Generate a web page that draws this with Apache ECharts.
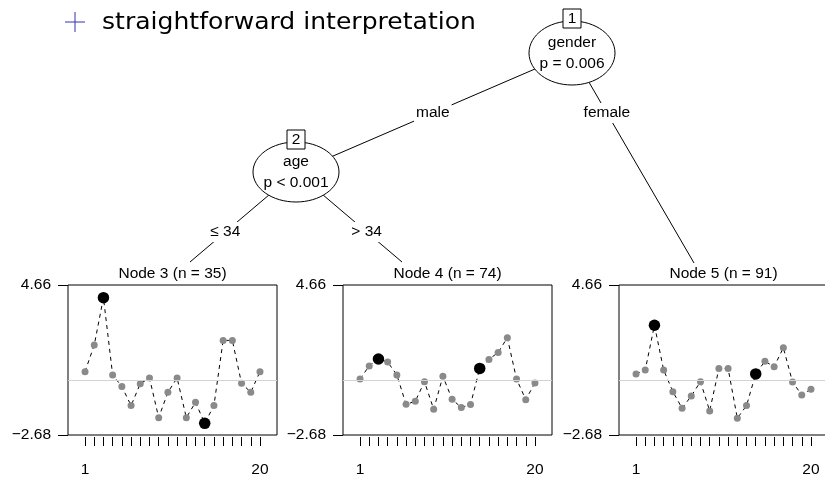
<!DOCTYPE html>
<html>
<head>
<meta charset="utf-8">
<script src="https://cdn.jsdelivr.net/npm/echarts@6/dist/echarts.min.js"></script>
<style>
  html, body { margin: 0; padding: 0; background: #fff; }
  #chart { width: 825px; height: 477px; }
</style>
</head>
<body>
<div id="chart"></div>
<script>
// Time points (x positions) shared by all terminal-node profiles
const timePoints = [1, 2, 3, 4, 5, 6, 7, 8, 9, 10, 11, 12, 13, 14, 15, 16, 17, 18, 19, 20];
const xTickLabels = [1, 20];
const yTickLabels = [-2.68, 4.66];
const referenceLevel = 0;

// Mean profiles for each terminal node
const node3Values = [0.42, 1.72, 4.04, 0.26, -0.31, -1.24, -0.17, 0.11, -1.83, -0.59, 0.11, -1.83, -1.08, -2.11, -1.24, 1.95, 1.95, -0.15, -0.59, 0.42];
const node4Values = [0.06, 0.70, 1.04, 0.89, 0.26, -1.18, -1.03, -0.07, -1.42, 0.19, -0.93, -1.34, -1.19, 0.58, 1.02, 1.36, 2.08, 0.06, -0.95, -0.13];
const node5Values = [0.31, 0.50, 2.69, 0.50, -0.56, -1.37, -0.77, -0.07, -1.50, 0.57, 0.58, -1.86, -1.24, 0.31, 0.93, 0.66, 1.59, -0.09, -0.72, -0.44];
// Time points emphasised with large black dots
const highlightPoints = [3, 14];

const nodeTitles = ['Node 3 (n = 35)', 'Node 4 (n = 74)', 'Node 5 (n = 91)'];

// Inner tree nodes
const innerIds = ['1', '2'];
const splitVars = ['gender', 'age'];
const splitPValues = ['p = 0.006', 'p < 0.001'];
const edgeLabels = ['male', 'female', '\u2264 34', '> 34'];

const heading = 'straightforward interpretation';

// ---- layout ----
const panelLeft = [68, 343, 619];
const panelTop = 285, panelW = 209, panelH = 150;
const innerPos = [[572, 53], [296, 172]];
const innerR = [[43, 32], [43, 30]];
const leafTop = [[190, 262], [402, 262], [694, 263]];

const FONT = '"Liberation Sans", Arial, sans-serif';
const FS = 15.5;
const profiles = [node3Values, node4Values, node5Values];

const chart = echarts.init(document.getElementById('chart'), null, { renderer: 'canvas' });

const grids = [], xAxes = [], yAxes = [], series = [], titles = [];
profiles.forEach((vals, i) => {
  grids.push({
    left: panelLeft[i], top: panelTop, width: panelW, height: panelH,
    outerBoundsMode: 'none', containLabel: false,
    show: true, borderColor: '#000', borderWidth: 1, backgroundColor: 'transparent'
  });
  xAxes.push({
    gridIndex: i, type: 'value', min: -0.85, max: 21.85, position: 'bottom', offset: 2,
    axisLine: { show: false, onZero: false },
    splitLine: { show: false },
    axisTick: { show: true, inside: false, length: 9, customValues: timePoints, lineStyle: { color: '#000', width: 1 } },
    axisLabel: { show: true, customValues: xTickLabels, margin: 25, color: '#000', fontFamily: FONT, fontSize: FS }
  });
  yAxes.push({
    gridIndex: i, type: 'value', min: yTickLabels[0], max: yTickLabels[1], position: 'left',
    axisLine: { show: false, onZero: false },
    splitLine: { show: false },
    axisTick: { show: true, inside: false, length: 10, customValues: yTickLabels, lineStyle: { color: '#000', width: 1 } },
    axisLabel: {
      show: true, customValues: yTickLabels, margin: 17, color: '#000', fontFamily: FONT, fontSize: FS,
      formatter: v => (v < 0 ? '\u2212' + Math.abs(v).toFixed(2) : v.toFixed(2))
    }
  });
  // reference level
  series.push({
    type: 'line', xAxisIndex: i, yAxisIndex: i, data: [], z: 1, silent: true,
    markLine: {
      silent: true, symbol: ['none', 'none'], label: { show: false },
      lineStyle: { color: '#d3d3d3', type: 'solid', width: 1 },
      data: [{ yAxis: referenceLevel }]
    }
  });
  // profile
  series.push({
    type: 'line', xAxisIndex: i, yAxisIndex: i, z: 3,
    data: timePoints.map((t, k) => [t, vals[k]]),
    symbol: 'circle', symbolSize: 7, showSymbol: true,
    itemStyle: { color: '#8a8a8a', borderWidth: 0 },
    lineStyle: { color: '#000', width: 1, type: [4, 4] }
  });
  // emphasised points
  series.push({
    type: 'scatter', xAxisIndex: i, yAxisIndex: i, z: 4,
    data: highlightPoints.map(t => [t, vals[timePoints.indexOf(t)]]),
    symbol: 'circle', symbolSize: 11.5,
    itemStyle: { color: '#000', opacity: 1 }
  });
  titles.push({
    text: nodeTitles[i], left: panelLeft[i] + panelW / 2, top: 266, textAlign: 'center',
    textStyle: { fontFamily: FONT, fontSize: FS, fontWeight: 'normal', color: '#000' },
    padding: 0
  });
});

// ---- tree graphics ----
const graphic = [];
// edges
const edges = [
  [innerPos[0], innerPos[1]],
  [innerPos[0], leafTop[2]],
  [innerPos[1], leafTop[0]],
  [innerPos[1], leafTop[1]]
];
edges.forEach(([a, b]) => {
  graphic.push({
    type: 'line', z: 1,
    shape: { x1: a[0], y1: a[1], x2: b[0], y2: b[1] },
    style: { stroke: '#000', lineWidth: 1 }
  });
});
// edge labels placed on the edges at a fixed height
const labelY = [113, 113, 232, 232];
edges.forEach(([a, b], k) => {
  const y = labelY[k];
  const x = a[0] + (b[0] - a[0]) * (y - a[1]) / (b[1] - a[1]);
  graphic.push({
    type: 'text', z: 2, x: x, y: y,
    style: {
      text: edgeLabels[k], fill: '#000', font: FS + 'px ' + FONT,
      align: 'center', verticalAlign: 'middle',
      backgroundColor: '#fff', padding: [2, 2]
    }
  });
});
// inner nodes
innerPos.forEach((p, k) => {
  graphic.push({
    type: 'ellipse', z: 3,
    shape: { cx: p[0], cy: p[1], rx: innerR[k][0], ry: innerR[k][1] },
    style: { fill: '#fff', stroke: '#000', lineWidth: 1 }
  });
  const top = p[1] - innerR[k][1];
  graphic.push({
    type: 'rect', z: 4,
    shape: { x: p[0] - 9, y: top - 12, width: 18, height: 19 },
    style: { fill: '#fff', stroke: '#000', lineWidth: 1 }
  });
  graphic.push({
    type: 'text', z: 5, x: p[0], y: top - 2.5,
    style: { text: innerIds[k], fill: '#000', font: FS + 'px ' + FONT, align: 'center', verticalAlign: 'middle' }
  });
  graphic.push({
    type: 'text', z: 5, x: p[0], y: p[1] - 10,
    style: { text: splitVars[k], fill: '#000', font: FS + 'px ' + FONT, align: 'center', verticalAlign: 'middle' }
  });
  graphic.push({
    type: 'text', z: 5, x: p[0], y: p[1] + 11,
    style: { text: splitPValues[k], fill: '#000', font: FS + 'px ' + FONT, align: 'center', verticalAlign: 'middle' }
  });
});
// heading with blue bullet
graphic.push({
  type: 'line', shape: { x1: 65, y1: 22, x2: 85, y2: 22 },
  style: { stroke: '#3333B3', lineWidth: 1 }
});
graphic.push({
  type: 'line', shape: { x1: 75, y1: 12, x2: 75, y2: 32 },
  style: { stroke: '#3333B3', lineWidth: 1 }
});
graphic.push({
  type: 'text', x: 102, y: 23, scaleX: 1.09,
  style: { text: heading, fill: '#000', font: '23px "DejaVu Sans", sans-serif', align: 'left', verticalAlign: 'middle' }
});

chart.setOption({
  animation: false,
  backgroundColor: '#fff',
  title: titles,
  grid: grids,
  xAxis: xAxes,
  yAxis: yAxes,
  series: series,
  graphic: graphic
});
</script>
</body>
</html>
